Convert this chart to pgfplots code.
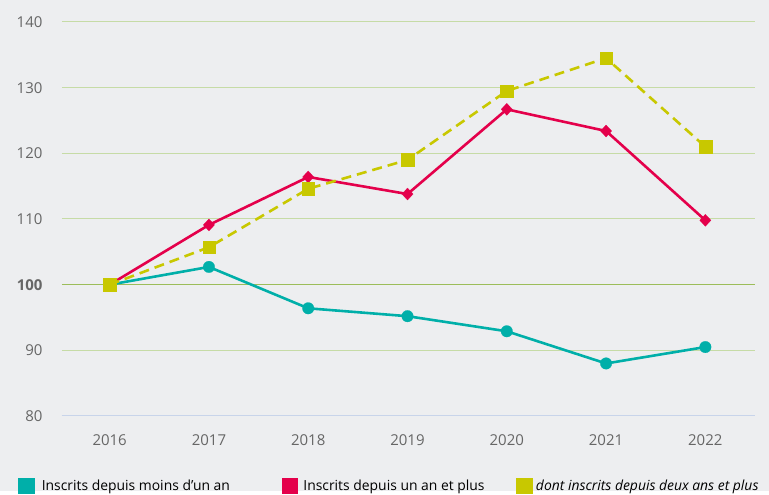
\documentclass[border=0pt]{standalone}
\usepackage{pgfplots}
\pgfplotsset{compat=1.18}
\usepackage{fontspec}
\setmainfont{Open Sans}
\definecolor{bg}{HTML}{EDEEF0}
\definecolor{cteal}{HTML}{00AFA9}
\definecolor{cred}{HTML}{E4004B}
\definecolor{cyel}{HTML}{C8C800}
\definecolor{gridg}{HTML}{C6DBA6}
\definecolor{gridd}{HTML}{9CBD5A}
\definecolor{axb}{HTML}{C8D4EA}
\definecolor{tickc}{HTML}{666666}
\begin{document}
\begin{tikzpicture}
\fill[bg] (-62pt,-75pt) rectangle (707pt,416pt);
\begin{axis}[
  at={(0pt,0pt)}, anchor=origin,
  scale only axis, width=693pt, height=394pt,
  xmin=2015.52, xmax=2022.5, ymin=80, ymax=140,
  xtick={2016,...,2022},
  xticklabels={2016,2017,2018,2019,2020,2021,2022},
  ytick={80,90,110,120,130,140},
  yticklabels={80,90,110,120,130,140},
  extra y ticks={100},
  extra y tick labels={\textbf{100}},
  extra y tick style={grid style={gridd, line width=1.2pt}},
  ymajorgrids, grid style={gridg, line width=1pt},
  axis lines*=left,
  y axis line style={draw=none},
  x axis line style={axb, line width=1pt},
  major tick length=0pt,
  tick label style={font=\fontsize{15}{18}\selectfont, text=tickc},
  yticklabel style={anchor=east, xshift=-16pt},
  xticklabel style={yshift=-15pt},
  legend image code/.code={\fill[solid] (0pt,-7pt) rectangle (14pt,7pt);},
  legend columns=3,
  legend style={draw=none, fill=none, inner sep=0pt, column sep=0pt,
    nodes={inner sep=0pt, anchor=west, font=\fontsize{13.9}{15}\selectfont},
    at={([xshift=-44pt,yshift=-70pt]axis description cs:0,0)}, anchor=west},
  legend cell align=left,
]
\addplot[cteal, line width=2.6pt, mark=*, mark size=5.8pt, mark options={line width=0.2pt}] coordinates {
(2016,100) (2017,102.7) (2018,96.4) (2019,95.2) (2020,92.9) (2021,88.0) (2022,90.5)};
\addlegendentry{\makebox[247pt][l]{\hspace{7pt}Inscrits depuis moins d'un an}}
\addplot[cred, line width=2.6pt, mark=diamond*, mark size=6pt, mark options={line width=0.2pt, xscale=1.25}] coordinates {
(2016,100) (2017,109.1) (2018,116.4) (2019,113.8) (2020,126.7) (2021,123.4) (2022,109.8)};
\addlegendentry{\makebox[218pt][l]{\hspace{5pt}Inscrits depuis un an et plus}}
\addplot[cyel, line width=2.6pt, dash pattern=on 10pt off 6pt, mark=square*, mark size=6.3pt, mark options={solid, line width=0.2pt}] coordinates {
(2016,100) (2017,105.7) (2018,114.6) (2019,119.0) (2020,129.5) (2021,134.5) (2022,121.0)};
\addlegendentry{\hspace{3pt}\itshape dont inscrits depuis deux ans et plus}
\end{axis}
\end{tikzpicture}
\end{document}
